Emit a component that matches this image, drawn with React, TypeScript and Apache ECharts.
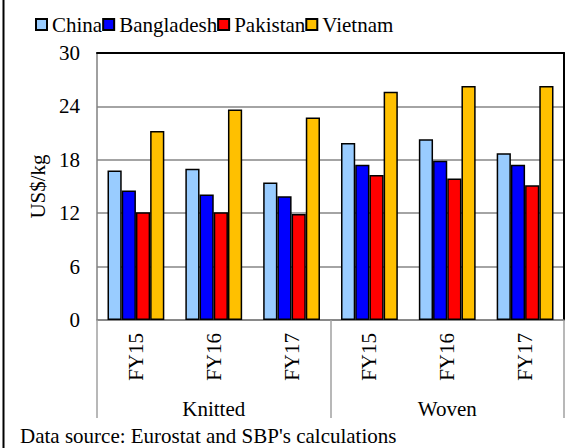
import React, { useEffect, useRef } from 'react';
import * as echarts from 'echarts';

const FONT = 'Liberation Serif';

const fyLabels = ['FY15', 'FY16', 'FY17', 'FY15', 'FY16', 'FY17'];
const groupLabels = ['Knitted', 'Woven'];
const seriesNames = ['China', 'Bangladesh', 'Pakistan', 'Vietnam'];
const seriesColors = ['#99CCFF', '#0000FF', '#FF0000', '#FFC000'];

const china = [16.8, 17.0, 15.45, 19.9, 20.3, 18.75];
const bangladesh = [14.55, 14.1, 13.9, 17.45, 17.9, 17.45];
const pakistan = [12.1, 12.1, 11.9, 16.3, 15.9, 15.15];
const vietnam = [21.25, 23.65, 22.75, 25.65, 26.3, 26.3];

const yMin = 0;
const yMax = 30;
const yInterval = 6;

const titleText = 'Figure 6: Unit Value of Knitted and Woven Clothing (US$/kg)';
const sourceText = "Data source: Eurostat and SBP's calculations";
const yName = 'US$/kg';

export default function App() {
  const ref = useRef<HTMLDivElement>(null);
  useEffect(() => {
    const chart = echarts.init(ref.current!, null, { renderer: 'svg' });
    const values = [china, bangladesh, pakistan, vietnam];
    const option: any = {
      animation: false,
      backgroundColor: '#fff',
      textStyle: { fontFamily: FONT },
      legend: {
        data: seriesNames,
        left: 30,
        top: 9,
        icon: 'rect',
        itemWidth: 11,
        itemHeight: 11,
        itemGap: 0,
        textStyle: { fontFamily: FONT, fontSize: 21, color: '#000' },
      },
      grid: { left: 97, right: 6, top: 53, bottom: 128, containLabel: false },
      xAxis: [
        {
          type: 'category',
          data: fyLabels,
          position: 'bottom',
          axisLine: { show: true, lineStyle: { color: '#808080', width: 1.5 } },
          axisTick: { show: false },
          axisLabel: { rotate: 90, margin: 13, fontFamily: FONT, fontSize: 21, color: '#000', interval: 0 },
        },
        {
          type: 'category',
          data: groupLabels,
          position: 'bottom',
          axisLine: { show: false },
          axisTick: { show: true, length: 98, interval: 0, lineStyle: { color: '#a0a0a0', width: 1.5 } },
          axisLabel: { margin: 78, fontFamily: FONT, fontSize: 21, color: '#000', interval: 0 },
        },
        {
          type: 'category',
          data: fyLabels,
          position: 'top',
          axisLine: { show: true, lineStyle: { color: '#000', width: 2 } },
          axisTick: { show: false },
          axisLabel: { show: false },
        },
      ],
      yAxis: [
        {
          type: 'value',
          min: yMin,
          max: yMax,
          interval: yInterval,
          name: yName,
          nameLocation: 'middle',
          nameGap: 45,
          nameRotate: 90,
          nameTextStyle: { fontFamily: FONT, fontSize: 21, color: '#000' },
          axisLine: { show: true, lineStyle: { color: '#808080', width: 1.5 } },
          axisTick: { show: false },
          axisLabel: { margin: 17, fontFamily: FONT, fontSize: 21, color: '#000' },
          splitLine: { show: true, lineStyle: { color: '#868686', width: 1.5 } },
        },
        {
          type: 'value',
          min: yMin,
          max: yMax,
          interval: yInterval,
          position: 'right',
          axisLine: { show: true, lineStyle: { color: '#000', width: 2 } },
          axisTick: { show: false },
          axisLabel: { show: false },
          splitLine: { show: false },
        },
      ],
      series: seriesNames.map((name, i) => ({
        name,
        type: 'bar',
        xAxisIndex: 0,
        yAxisIndex: 0,
        data: values[i],
        barGap: '0%',
        barCategoryGap: '27%',
        itemStyle: { color: seriesColors[i], borderColor: '#000', borderWidth: 1.5 },
      })),
      graphic: [
        {
          type: 'line',
          shape: { x1: 3.5, y1: 0, x2: 3.5, y2: 448 },
          style: { stroke: '#000', lineWidth: 2 },
        },
        {
          type: 'text',
          x: 558,
          y: -2,
          style: {
            text: titleText,
            font: `bold 20px ${FONT}`,
            fill: '#000',
            align: 'right',
            verticalAlign: 'bottom',
          },
        },
        {
          type: 'text',
          left: 20,
          top: 425,
          style: { text: sourceText, font: `21px ${FONT}`, fill: '#000' },
        },
      ],
    };
    chart.setOption(option);
    return () => chart.dispose();
  }, []);
  return (
    <div
      ref={ref}
      style={{ position: 'absolute', left: 0, top: 0, width: 570, height: 448, background: '#fff' }}
    />
  );
}
